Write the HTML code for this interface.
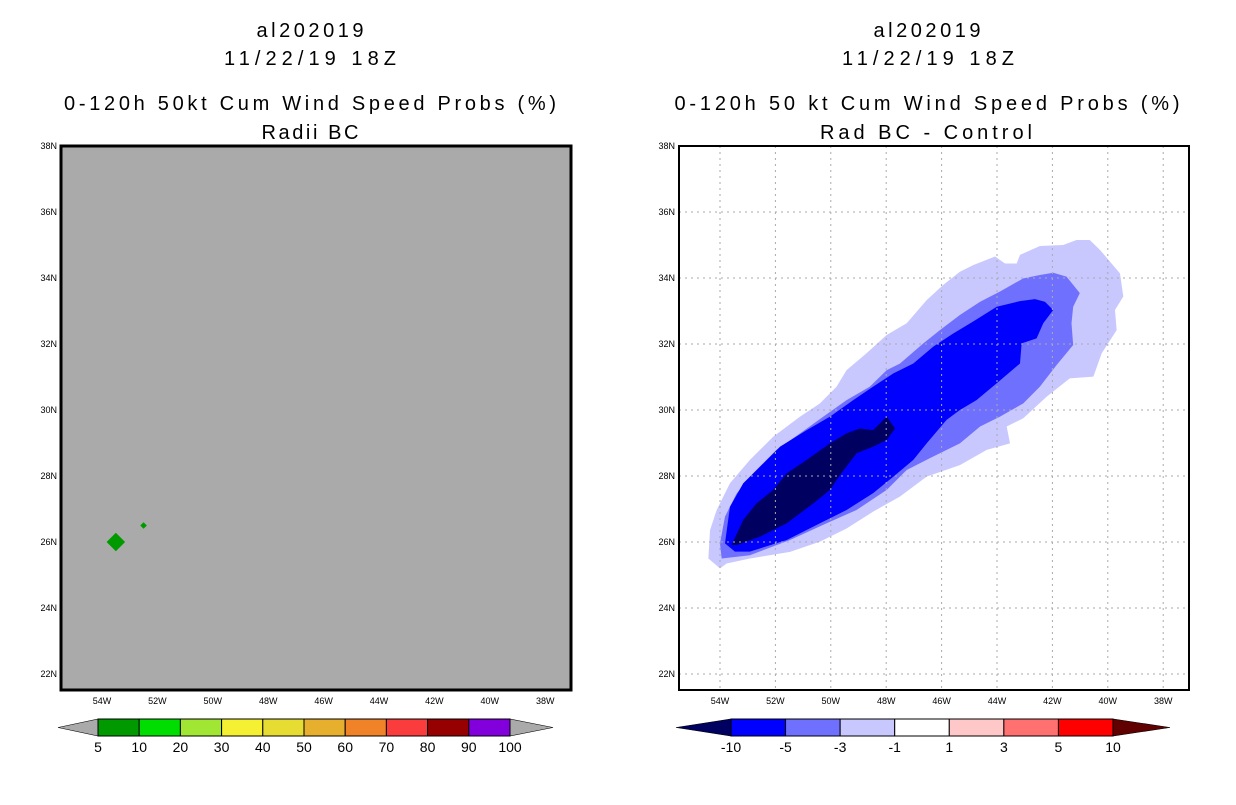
<!DOCTYPE html>
<html><head><meta charset="utf-8"><style>
body{margin:0;background:#fff;width:1236px;height:800px;overflow:hidden;font-family:"Liberation Sans",sans-serif}
svg text{font-family:"Liberation Sans",sans-serif}
</style></head><body>
<svg id="c" width="1236" height="800">
<g font-size="20" text-anchor="middle" fill="#000">
<text x="310" y="37" textLength="107" lengthAdjust="spacing">al202019</text><text x="310" y="65" textLength="172" lengthAdjust="spacing">11/22/19 18Z</text>
<text x="310" y="110" textLength="492" lengthAdjust="spacing">0-120h 50kt Cum Wind Speed Probs (%)</text><text x="310" y="139" textLength="97" lengthAdjust="spacing">Radii BC</text></g>
<g font-size="20" text-anchor="middle" fill="#000">
<text x="927" y="37" textLength="107" lengthAdjust="spacing">al202019</text><text x="928" y="65" textLength="172" lengthAdjust="spacing">11/22/19 18Z</text>
<text x="927" y="110" textLength="505" lengthAdjust="spacing">0-120h 50 kt Cum Wind Speed Probs (%)</text><text x="926" y="139" textLength="212" lengthAdjust="spacing">Rad BC - Control</text></g>
</svg>
<script>
const lonTicks=[54,52,50,48,46,44,42,40,38];
const latTicks=[38,36,34,32,30,28,26,24,22];
const leftLevels=[5,10,20,30,40,50,60,70,80,90,100];
const leftColors=["#009900","#00dd00","#a0e632","#f5f032","#e6dc32","#e6af2d","#f08228","#fa3c3c","#960000","#8200dc"];
const rightLevels=[-10,-5,-3,-1,1,3,5,10];
const rightColors=["#0000ff","#7070ff","#c8c8ff","#ffffff","#ffc8c8","#ff7070","#ff0000"];
const greenBlobs=[[-53.5,26.0,0.28],[-52.5,26.5,0.1]];
const contourNames=["diff-minus1","diff-minus3","diff-minus5","diff-minus10"];
const contourFill=["#c8c8ff","#7070ff","#0000ff","#000060"];
const polyM1=[[-54.42,25.5],[-54,25.2],[-53.76,25.35],[-52.92,25.5],[-51.47,25.7],[-50.39,26.01],[-49.43,26.41],[-48.47,26.92],[-47.5,27.38],[-46.54,27.98],[-45.34,28.33],[-44.37,28.79],[-43.53,28.99],[-43.65,29.5],[-43.05,29.75],[-42.21,30.4],[-41.37,30.96],[-40.52,31.01],[-40.22,31.72],[-39.68,32.42],[-39.74,33.03],[-39.44,33.44],[-39.56,34.14],[-40.28,34.85],[-40.65,35.15],[-41.13,35.15],[-41.61,35.0],[-42.45,34.97],[-43.17,34.7],[-43.29,34.44],[-43.71,34.44],[-44.07,34.65],[-44.86,34.39],[-45.34,34.19],[-45.94,33.79],[-46.54,33.33],[-47.26,32.63],[-47.99,32.27],[-48.71,31.72],[-49.43,31.21],[-49.79,30.71],[-50.39,30.2],[-51.11,29.8],[-52.08,29.19],[-52.92,28.49],[-53.64,27.78],[-54.12,26.97],[-54.36,26.36]];
const polyM3=[[-53.94,25.5],[-52.92,25.6],[-51.47,26.06],[-50.15,26.57],[-49.07,26.97],[-47.98,27.58],[-47.26,28.18],[-46.42,28.54],[-45.34,28.99],[-44.61,29.5],[-43.89,29.8],[-43.05,30.2],[-42.45,30.71],[-41.85,31.36],[-41.25,31.97],[-41.31,32.63],[-41.25,33.13],[-41.01,33.54],[-41.49,34.04],[-41.97,34.16],[-42.45,34.09],[-43.05,33.99],[-43.89,33.59],[-44.61,33.28],[-45.34,32.88],[-46.06,32.42],[-46.66,32.02],[-47.5,31.41],[-47.98,31.21],[-48.59,30.71],[-49.43,30.3],[-50.27,29.8],[-51.11,29.29],[-51.96,28.79],[-52.8,28.08],[-53.4,27.47],[-53.82,26.77],[-54.0,25.96]];
const polyM5=[[-53.82,25.96],[-53.46,25.71],[-52.92,25.71],[-51.59,26.06],[-50.39,26.57],[-49.43,26.97],[-48.47,27.48],[-47.74,27.98],[-47.02,28.49],[-46.54,28.99],[-45.82,29.7],[-45.34,30.0],[-44.74,30.3],[-44.01,30.81],[-43.17,31.41],[-43.11,32.02],[-42.57,32.17],[-42.33,32.63],[-41.97,33.03],[-42.27,33.28],[-42.63,33.36],[-43.17,33.3],[-44.01,33.13],[-44.86,32.68],[-45.58,32.32],[-46.3,31.92],[-47.02,31.41],[-47.74,31.11],[-48.47,30.71],[-49.19,30.3],[-50.03,29.8],[-50.87,29.39],[-51.83,28.89],[-52.44,28.38],[-53.16,27.78],[-53.64,27.07]];
const polyM10=[[-53.58,25.91],[-53.4,25.91],[-52.56,26.16],[-51.59,26.57],[-50.63,27.17],[-50.03,27.58],[-49.67,28.03],[-49.07,28.69],[-48.47,28.89],[-47.98,29.09],[-47.68,29.44],[-47.98,29.8],[-48.47,29.39],[-48.95,29.44],[-49.43,29.29],[-50.03,28.99],[-50.87,28.49],[-51.59,28.08],[-52.08,27.58],[-52.68,27.17],[-53.16,26.67]];
const polys=[polyM1,polyM3,polyM5,polyM10];

const NS="http://www.w3.org/2000/svg";
const svg=document.getElementById('c');
function mk(tag,attrs,parent){const e=document.createElementNS(NS,tag);for(const k in attrs)e.setAttribute(k,attrs[k]);(parent||svg).appendChild(e);return e;}
const PW=510,PH=544,PY=146,LON0=-55.48,LAT0=38,DPX=27.7,DPY=33;
function panel(x0){return{x:lon=>x0+(lon-LON0)*DPX,y:lat=>PY+(LAT0-lat)*DPY};}
const L=panel(61),R=panel(679);

const lg=mk('g',{});


mk('rect',{x:61,y:PY,width:PW,height:PH,fill:'#aaaaaa'},lg);
greenBlobs.forEach(b=>{const cx=L.x(b[0]),cy=L.y(b[1]),r=b[2]*DPY;
 const p=mk('polygon',{points:`${cx-r},${cy} ${cx},${cy-r} ${cx+r},${cy} ${cx},${cy+r}`,fill:'#009900'},lg);
 
 });
mk('rect',{x:61,y:PY,width:PW,height:PH,fill:'none',stroke:'#000','stroke-width':3},lg);

const rg=mk('g',{});


mk('rect',{x:679,y:PY,width:PW,height:PH,fill:'#fff'},rg);
polys.forEach((p,i)=>{const e=mk('polygon',{points:p.map(q=>R.x(q[0])+','+R.y(q[1])).join(' '),fill:contourFill[i]},rg);
 
 });
lonTicks.forEach(t=>mk('line',{x1:R.x(-t),x2:R.x(-t),y1:PY,y2:PY+PH,stroke:'#aaa','stroke-dasharray':'2,4'},rg));
latTicks.forEach(t=>mk('line',{x1:679,x2:679+PW,y1:R.y(t),y2:R.y(t),stroke:'#aaa','stroke-dasharray':'2,4'},rg));
mk('rect',{x:679,y:PY,width:PW,height:PH,fill:'none',stroke:'#000','stroke-width':2},rg);

[[L,61],[R,679]].forEach(([P,x0],k)=>{
 const ax=mk('g',{'font-size':9,fill:'#000'});
 
 
 lonTicks.forEach(t=>{const e=mk('text',{x:P.x(-t),y:PY+PH+14,'text-anchor':'middle'},ax);e.textContent=t+'W';});
 latTicks.forEach(t=>{const e=mk('text',{x:x0-4,y:P.y(t)+3,'text-anchor':'end'},ax);e.textContent=t+'N';});
});

function colorbar(name,x0,x1,tl,tr,colors,levels,leftTri,rightTri){
 const g=mk('g',{});
 
 
 const y0=719,y1=736,ym=727.5,w=(x1-x0)/colors.length;
 mk('polygon',{points:`${tl},${ym} ${x0},${y0} ${x0},${y1}`,fill:leftTri,stroke:'#000','stroke-width':0.6},g);
 mk('polygon',{points:`${tr},${ym} ${x1},${y0} ${x1},${y1}`,fill:rightTri,stroke:'#000','stroke-width':0.6},g);
 colors.forEach((c,i)=>mk('rect',{x:x0+i*w,y:y0,width:w,height:y1-y0,fill:c,stroke:'#000','stroke-width':1},g));
 levels.forEach((v,i)=>{const xx=x0+i*w;const e=mk('text',{x:xx,y:752,'text-anchor':'middle','font-size':14},g);e.textContent=v;});
}
colorbar('left-colorbar',98,510,58,553,leftColors,leftLevels,'#aaaaaa','#aaaaaa');
colorbar('right-colorbar',731,1113,676,1170,rightColors,rightLevels,'#000060','#600000');
</script>
</body></html>
